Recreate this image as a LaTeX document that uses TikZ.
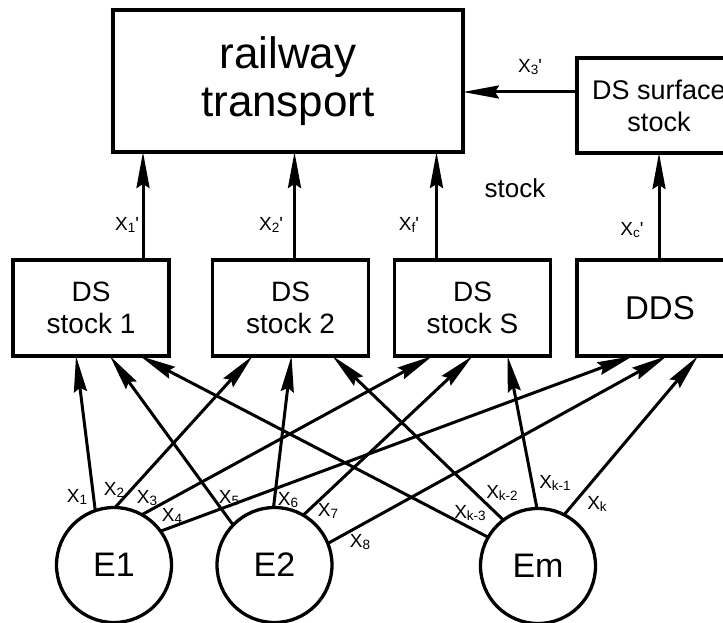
\documentclass[tikz,border=0pt]{standalone}
\usepackage{fontspec}
\setmainfont{Liberation Sans}
\usetikzlibrary{arrows.meta}

% flow variable labels: X with a lowered index, optionally primed
\newcommand{\xv}[1]{X\raisebox{-1.5pt}{\fontsize{13.5}{13.5}\selectfont #1}}
\newcommand{\xp}[1]{\xv{#1}\textquotesingle}

\tikzset{
  box/.style={draw, line width=3.3pt, inner sep=0pt, outer sep=0pt, align=center},
  stockbox/.style={box, minimum width=156pt, minimum height=96pt,
                   font=\fontsize{28}{32}\selectfont},
  ent/.style={draw, circle, line width=3.3pt, minimum size=115pt, inner sep=0pt,
              outer sep=0pt, font=\fontsize{34}{34}\selectfont},
  flow/.style={line width=3pt, -{Stealth[length=36pt,width=13pt,inset=4pt]}},
  lab/.style={inner sep=0pt, font=\fontsize{19}{19}\selectfont}
}

\begin{document}
\begin{tikzpicture}[x=1pt, y=-1pt]
\useasboundingbox (0,0) rectangle (723,623);
\clip (0,0) rectangle (723,623);

% top level: consumer and surface stock
\node[box, minimum width=350pt, minimum height=142pt,
      font=\fontsize{44}{48}\selectfont] (rail) at (288,81) {railway\\transport};
\node[box, minimum width=164pt, minimum height=95pt,
      font=\fontsize{27}{32}\selectfont] (surf) at (659,105.5) {DS surface\\stock};

% intermediate stocks
\node[stockbox] (s1) at (91,308) {DS\\stock 1};
\node[stockbox] (s2) at (290.5,308) {DS\\stock 2};
\node[stockbox] (sS) at (472.5,308) {DS\\stock S};
\node[stockbox, minimum width=166pt, font=\fontsize{33}{33}\selectfont] (dds) at (660,308) {DDS};

% sources
\node[ent] (E1) at (114,565) {E1};
\node[ent] (E2) at (274.5,565) {E2};
\node[ent] (Em) at (538,566) {Em};

% flows into railway transport
\draw[flow] ([xshift=130pt]s1.north west) coordinate (v1) -- (v1 |- rail.south);
\draw[flow] ([xshift=82pt]s2.north west) coordinate (v2) -- (v2 |- rail.south);
\draw[flow] ([xshift=42pt]sS.north west) coordinate (v3) -- (v3 |- rail.south);
\draw[flow] ([xshift=82pt]dds.north west) coordinate (v4) -- (v4 |- surf.south);
\draw[flow] ([yshift=13.5pt]surf.west) coordinate (h) -- (h -| rail.east);

% flows from the sources to the stocks
\draw[flow] (E1.109) -- ([xshift=63pt]s1.south west);
\draw[flow] (E1.89)  -- ([xshift=40pt]s2.south west);
\draw[flow] (E1.61)  -- ([xshift=38pt]sS.south west);
\draw[flow] (E1.36)  -- ([xshift=56pt]dds.south west);

\draw[flow] (E2.136)  -- ([xshift=97pt]s1.south west);
\draw[flow] (E2.91.5) -- ([xshift=79pt]s2.south west);
\draw[flow] (E2.60)   -- ([xshift=78pt]sS.south west);
\draw[flow] (E2.22)   -- ([xshift=90pt]dds.south west);

\draw[flow] (Em.150) -- ([xshift=127pt]s1.south west);
\draw[flow] (Em.127) -- ([xshift=120pt]s2.south west);
\draw[flow] (Em.91)  -- ([xshift=113pt]sS.south west);
\draw[flow] (Em.63)  -- ([xshift=121pt]dds.south west);

% labels
\node[lab] (p1) at (127,225) {\xp{1}};
\node[lab] (p2) at (271,225) {\xp{2}};
\node[lab] (pf) at (409,225) {\xp{f}};
\node[lab] (pc) at (632,230) {\xp{c}};
\node[lab] (p3) at (530,67)  {\xp{3}};
\node[inner sep=0pt, font=\fontsize{26}{26}\selectfont] (stk) at (515,188) {stock};

\node[lab] (a1) at (77,497)  {\xv{1}};
\node[lab] (a2) at (114,490) {\xv{2}};
\node[lab] (a3) at (147,498) {\xv{3}};
\node[lab] (a4) at (172,516) {\xv{4}};
\node[lab] (a5) at (229,498) {\xv{5}};
\node[lab] (a6) at (288,500) {\xv{6}};
\node[lab] (a7) at (328,511) {\xv{7}};
\node[lab] (a8) at (360,542) {\xv{8}};
\node[lab] (b3) at (470,513) {\xv{k-3}};
\node[lab] (b2) at (502,493) {\xv{k-2}};
\node[lab] (b1) at (555,483) {\xv{k-1}};
\node[lab] (b0) at (597,504) {\xv{k}};
\end{tikzpicture}
\end{document}
